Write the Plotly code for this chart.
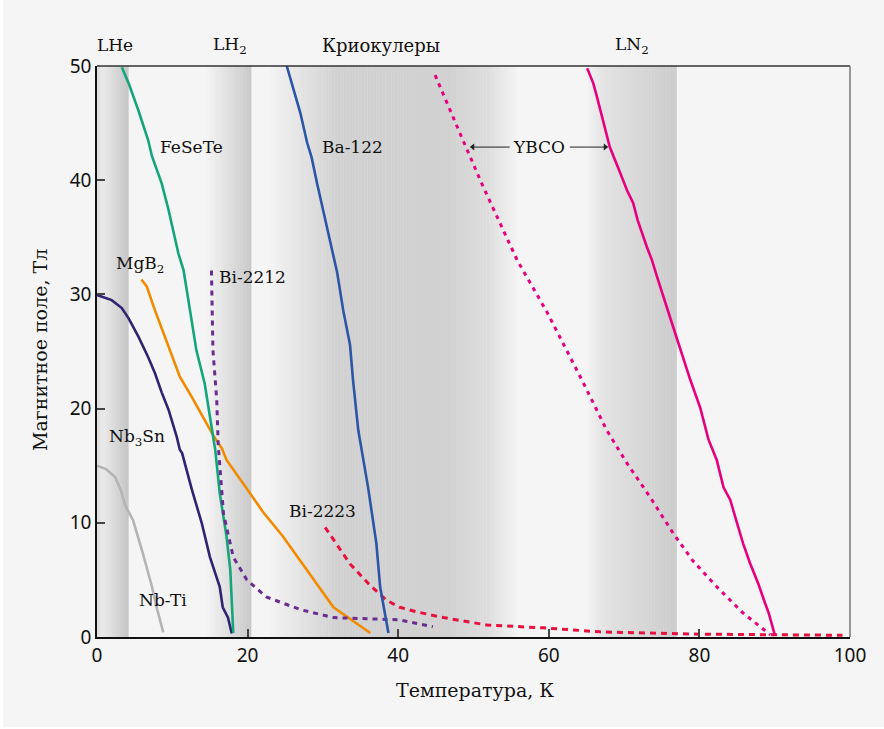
import numpy as np
import plotly.graph_objects as go

# ---------------- data ----------------
nbti_T = [0.0, 0.4, 1.2, 2.4, 3.2, 3.7, 4.8, 6.1, 7.3, 8.0, 8.8]
nbti_B = [15.0, 14.9, 14.7, 14.0, 12.8, 11.6, 10.2, 7.3, 4.4, 2.4, 0.4]

nb3sn_T = [0.0, 0.2, 1.95, 3.3, 4.2, 5.5, 6.8, 7.7, 8.6, 9.5, 10.6, 11.0, 11.3, 12.6, 13.9, 15.0, 16.3, 16.7, 17.4, 17.9]
nb3sn_B = [30.0, 29.9, 29.5, 28.8, 27.9, 26.3, 24.5, 23.1, 21.4, 19.9, 17.5, 16.4, 16.1, 12.9, 10.0, 7.0, 4.4, 2.6, 1.7, 0.3]

mgb2_T = [5.9, 6.6, 7.7, 9.0, 10.1, 11.0, 12.6, 14.3, 15.4, 16.6, 17.2, 20.3, 22.1, 24.7, 31.4, 36.3]
mgb2_B = [31.3, 30.7, 28.6, 26.3, 24.5, 22.8, 21.0, 19.0, 17.7, 16.5, 15.5, 12.6, 10.9, 8.8, 2.6, 0.35]

fesete_T = [3.3, 4.2, 5.5, 6.8, 7.3, 8.6, 9.5, 10.1, 10.8, 11.5, 12.6, 13.2, 14.3, 15.0, 15.7, 16.3, 17.2, 17.7, 18.0, 18.1]
fesete_B = [49.9, 48.5, 46.1, 43.5, 42.1, 39.7, 37.4, 35.6, 33.6, 32.1, 27.5, 25.1, 22.2, 19.3, 16.4, 12.6, 8.8, 5.9, 2.1, 0.35]

bi2212_T = [15.2, 15.4, 15.9, 16.1, 16.8, 18.1, 19.9, 22.5, 27.0, 31.4, 35.8, 40.2, 44.6]
bi2212_B = [32.1, 25.1, 20.8, 16.8, 10.8, 7.0, 5.0, 3.5, 2.4, 1.7, 1.6, 1.5, 0.9]

bi2223_T = [30.3, 33.6, 36.3, 38.5, 40.2, 42.5, 46.0, 51.8, 59.3, 66.8, 80.0, 99.0]
bi2223_B = [9.6, 6.4, 4.5, 3.2, 2.6, 2.2, 1.7, 1.05, 0.8, 0.45, 0.25, 0.15]

ba122_T = [25.2, 27.0, 27.9, 28.5, 29.2, 30.3, 31.2, 31.9, 32.7, 33.6, 34.0, 34.7, 36.0, 36.7, 37.1, 37.6, 38.7]
ba122_B = [50.0, 45.9, 43.3, 42.0, 39.8, 36.5, 33.9, 31.9, 28.6, 25.6, 22.5, 18.1, 13.1, 10.2, 8.2, 4.4, 0.35]

ybco_film_T = [44.9, 46.5, 48.6, 51.3, 53.5, 55.8, 59.8, 64.4, 67.7, 70.4, 73.4, 76.5, 79.1, 82.3, 85.8, 89.4]
ybco_film_B = [49.2, 46.8, 43.5, 39.4, 36.3, 33.0, 28.4, 22.5, 18.1, 15.2, 12.3, 9.1, 6.7, 4.4, 2.1, 0.2]

ybco_T = [65.1, 65.9, 66.4, 67.1, 68.1, 69.5, 70.4, 71.2, 71.8, 73.0, 73.7, 74.4, 75.2, 76.1,
          78.8, 80.1, 81.2, 82.3, 83.2, 84.1, 84.9, 85.8, 86.7, 87.8, 88.7, 89.2, 90.0]
ybco_B = [49.8, 48.5, 47.3, 45.5, 42.9, 40.6, 39.1, 38.0, 36.5, 34.2, 33.0, 31.5, 29.8, 28.0,
          22.5, 20.1, 17.3, 15.5, 13.1, 12.0, 10.2, 8.2, 6.5, 4.7, 3.0, 2.1, 0.2]

x_ticks = [0, 20, 40, 60, 80, 100]
y_ticks = [0, 10, 20, 30, 40, 50]

# ---------------- figure ----------------
fig = go.Figure()

BG = "#f5f5f5"
SERIF = "DejaVu Serif"
SANS = "Noto Sans"

# background shading (cooling regimes) as thin gray stripes forming gradients
segments = [
    ([0.0, 0.8, 4.2], [222, 234, 196]),
    ([14.3, 16.0, 20.5], [245, 234, 200]),
    ([22.5, 27.0, 32.0, 47.0, 52.0, 56.0], [245, 228, 209, 209, 222, 245]),
    ([65.0, 67.0, 77.0], [245, 228, 203]),
]
shapes = []
# outer panel
shapes.append(dict(type="rect", xref="paper", yref="paper", x0=-0.1248, x1=1.05, y0=-0.1576, y1=1.2,
                   fillcolor=BG, line=dict(width=0), layer="below"))
step = 0.2
for xs, gs in segments:
    t = xs[0]
    while t < xs[-1] - 1e-9:
        t1 = min(t + step, xs[-1])
        g = int(round(np.interp((t + t1) / 2, xs, gs)))
        if g < 244:
            c = f"rgb({g},{g},{g})"
            shapes.append(dict(type="rect", xref="x", yref="y", x0=t, x1=min(t1 + 0.05, xs[-1]), y0=0, y1=50,
                               fillcolor=c, line=dict(width=0), layer="below"))
        t = t1

# frame lines
shapes.append(dict(type="line", xref="paper", yref="paper", x0=0, x1=1, y0=1, y1=1,
                   line=dict(color="#333333", width=1.5)))
shapes.append(dict(type="line", xref="paper", yref="paper", x0=1, x1=1, y0=0, y1=1,
                   line=dict(color="#777777", width=1.5)))

# YBCO label arrows (lines)
arrow_y = 42.9
for (x_from, x_to) in [(54.8, 49.9), (62.8, 67.5)]:
    shapes.append(dict(type="line", xref="x", yref="y", x0=x_from, x1=x_to, y0=arrow_y, y1=arrow_y,
                       line=dict(color="#222222", width=1)))


def add(T, B, color, dash="solid", width=2.6):
    fig.add_trace(go.Scatter(x=T, y=B, mode="lines", line=dict(color=color, width=width, dash=dash),
                             hoverinfo="skip", showlegend=False))


add(nbti_T, nbti_B, "#b4b4b4")
add(nb3sn_T, nb3sn_B, "#2f2372")
add(mgb2_T, mgb2_B, "#f28a00")
add(fesete_T, fesete_B, "#14a57a")
add(bi2212_T, bi2212_B, "#6b2c90", dash="5px,5px", width=3)
add(bi2223_T, bi2223_B, "#e8103e", dash="6px,5px", width=3)
add(ba122_T, ba122_B, "#2b55a6")
add(ybco_film_T, ybco_film_B, "#e6007e", dash="4px,5px", width=3)
add(ybco_T, ybco_B, "#e6007e")

# arrowheads
fig.add_trace(go.Scatter(x=[49.9, 67.5], y=[arrow_y, arrow_y], mode="markers",
                         marker=dict(symbol=["triangle-left", "triangle-right"], size=6, color="#222222"),
                         hoverinfo="skip", showlegend=False))

ann = []


def lab(x, y, text, size=17, xref="x", yref="y", angle=0):
    ann.append(dict(x=x, y=y, xref=xref, yref=yref, text=text, showarrow=False,
                    font=dict(family=SERIF, size=size, color="#111111"), textangle=angle,
                    xanchor="center", yanchor="middle"))


top_y = (637 - 45) / 571
lab(2.4, top_y, "LHe", yref="paper")
lab(17.7, top_y, "LH<sub>2</sub>", yref="paper")
lab(37.7, top_y, "Криокулеры", size=18, yref="paper")
lab(71.0, top_y, "LN<sub>2</sub>", yref="paper")
lab(12.6, 42.9, "FeSeTe")
lab(33.9, 42.9, "Ba-122")
lab(58.7, 42.9, "YBCO")
lab(5.7, 32.6, "MgB<sub>2</sub>")
lab(20.7, 31.5, "Bi-2212")
lab(5.3, 17.5, "Nb<sub>3</sub>Sn")
lab(30.0, 11.0, "Bi-2223")
lab(8.8, 3.2, "Nb-Ti")

# axis titles
lab(0.502, (637 - 690) / 571, "Температура, К", size=19, xref="paper", yref="paper")
lab((40 - 97) / 753, (637 - 350) / 571, "Магнитное поле, Тл", size=19, xref="paper", yref="paper", angle=-90)

fig.update_layout(
    width=884, height=729,
    margin=dict(l=97, r=34, t=66, b=92),
    paper_bgcolor="white",
    plot_bgcolor=BG,
    shapes=shapes,
    annotations=ann,
    showlegend=False,
    xaxis=dict(range=[0, 100], tickvals=x_ticks, ticks="inside", ticklen=8, tickwidth=1.5,
               tickcolor="#444444", showgrid=False, zeroline=False, showline=True,
               linecolor="#111111", linewidth=1.5,
               tickfont=dict(family=SANS, size=19, color="#111111")),
    yaxis=dict(range=[0, 50], tickvals=y_ticks, ticks="inside", ticklen=8, tickwidth=1.5,
               tickcolor="#444444", showgrid=False, zeroline=False, showline=True,
               linecolor="#111111", linewidth=1.5,
               tickfont=dict(family=SANS, size=19, color="#111111")),
)

fig.write_html("out.html", config={"displayModeBar": False},
               post_script="document.body.style.margin='0px';document.body.style.overflow='hidden';")
